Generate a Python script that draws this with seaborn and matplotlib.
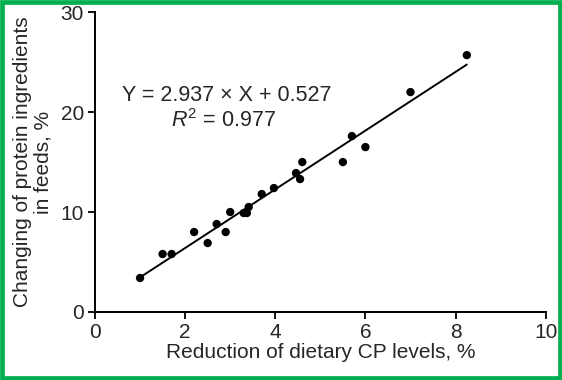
import numpy as np
import pandas as pd
import seaborn as sns
import matplotlib.pyplot as plt
from matplotlib.patches import Rectangle

# Data
cp_reduction = [1.0, 1.5, 1.7, 2.2, 2.5, 2.7, 2.9, 3.0, 3.3, 3.37, 3.41,
                3.7, 3.97, 4.46, 4.55, 4.6, 5.5, 5.7, 6.0, 7.0, 8.25]
protein_change = [3.4, 5.8, 5.8, 8.0, 6.9, 8.8, 8.0, 10.0, 9.9, 9.9, 10.5,
                  11.8, 12.4, 13.9, 13.3, 15.0, 15.0, 17.6, 16.5, 22.0, 25.7]
slope = 2.937
intercept = 0.527
r_squared = 0.977

df = pd.DataFrame({'x': cp_reduction, 'y': protein_change})

sns.set_style('ticks')
plt.rcParams['font.family'] = ['Liberation Sans', 'DejaVu Sans']
plt.rcParams['mathtext.fontset'] = 'custom'
plt.rcParams['mathtext.it'] = 'Liberation Sans:italic'
plt.rcParams['mathtext.rm'] = 'Liberation Sans'

fig = plt.figure(figsize=(5.62, 3.80), dpi=100)
ax = fig.add_axes([0.169, 0.179, 0.802, 0.789])

sns.scatterplot(data=df, x='x', y='y', ax=ax, color='black', s=36,
                edgecolor='none', zorder=3)

# fitted line
fit_x = np.array([min(cp_reduction), max(cp_reduction)])
ax.plot(fit_x, slope * fit_x + intercept, color='black', lw=1.4)

ax.text(2.93, 21.7, f"Y = {slope} × X + {intercept}", ha='center',
        va='center', fontsize=15.5)
ax.text(2.85, 19.2, f"$\\it{{R}}^2$ = {r_squared}", ha='center',
        va='center', fontsize=15.5)

ax.set_xlim(0, 10)
ax.set_ylim(0, 30)
ax.set_xticks([0, 2, 4, 6, 8, 10])
ax.set_yticks([0, 10, 20, 30])
ax.tick_params(labelsize=15, length=5, width=1.3, color='black', pad=3)
ax.set_xlabel("Reduction of dietary CP levels, %", fontsize=15, labelpad=1)
ax.set_ylabel("Changing of protein ingredients\nin feeds, %", fontsize=15,
              labelpad=6, linespacing=1.1)
for side in ['left', 'bottom']:
    ax.spines[side].set_linewidth(1.4)
    ax.spines[side].set_color('black')
sns.despine(ax=ax)

# green frame round the figure
fig.patches.append(Rectangle((0.004, 0.006), 0.992, 0.988,
                             transform=fig.transFigure, fill=False,
                             edgecolor='#00b050', linewidth=3.4))

fig.savefig('out.png', dpi=100)
